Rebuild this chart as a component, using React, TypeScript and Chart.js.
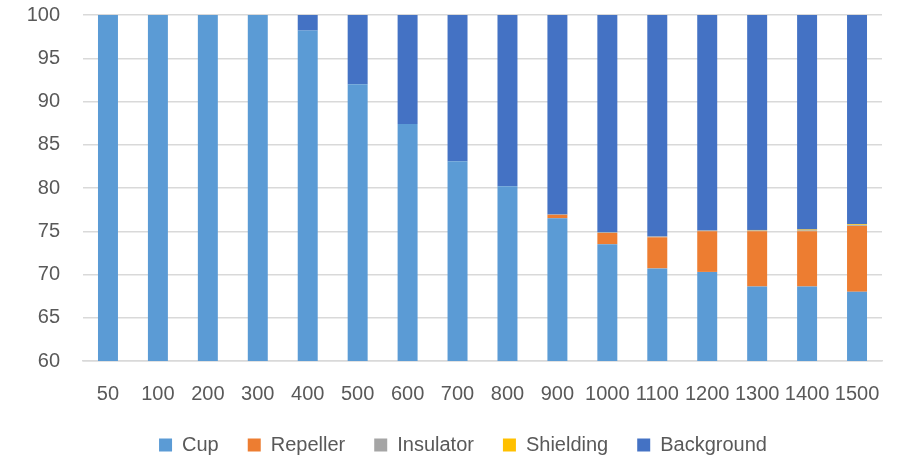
import React, { useEffect, useRef } from "react";
import { Chart, registerables } from "chart.js";

Chart.register(...registerables);

const categories = ["50", "100", "200", "300", "400", "500", "600", "700", "800", "900", "1000", "1100", "1200", "1300", "1400", "1500"];
const cup = [100, 100, 100, 100, 98.2, 92.0, 87.4, 83.1, 80.2, 76.5, 73.5, 70.7, 70.3, 68.6, 68.6, 68.0];
const repeller = [0, 0, 0, 0, 0, 0, 0, 0, 0, 0.4, 1.3, 3.6, 4.7, 6.4, 6.4, 7.6];
const insulator = [0, 0, 0, 0, 0, 0, 0, 0, 0, 0.05, 0.1, 0.1, 0.1, 0.1, 0.1, 0.1];
const shielding = [0, 0, 0, 0, 0, 0, 0, 0, 0, 0, 0, 0, 0, 0.05, 0.1, 0.1];
const background = [0, 0, 0, 0, 1.8, 8.0, 12.6, 16.9, 19.8, 23.05, 25.1, 25.6, 24.9, 24.85, 24.8, 24.2];
const yTicks = [60, 65, 70, 75, 80, 85, 90, 95, 100];

const FONT = "'Liberation Sans', Arial, sans-serif";
const TEXT = "#595959";

const legendPlace = {
  id: "legendPlace",
  afterLayout(chart: any) {
    const l = chart.legend;
    if (!l) return;
    const top = 406;
    l.top = top;
    l.bottom = 460;
    l.height = 460 - top;
    l.left += 22;
    l.right += 22;
  },
};

export default function App() {
  const ref = useRef<HTMLCanvasElement | null>(null);
  useEffect(() => {
    if (!ref.current) return;
    const mk = (label: string, data: number[], color: string) => ({
      label,
      data,
      backgroundColor: color,
      borderWidth: 0,
      barPercentage: 0.4,
      categoryPercentage: 1,
    });
    const chart = new Chart(ref.current, {
      type: "bar",
      data: {
        labels: categories,
        datasets: [
          mk("Cup", cup, "#5B9BD5"),
          mk("Repeller", repeller, "#ED7D31"),
          mk("Insulator", insulator, "#A5A5A5"),
          mk("Shielding", shielding, "#FFC000"),
          mk("Background", background, "#4472C4"),
        ],
      },
      plugins: [legendPlace],
      options: {
        animation: false,
        responsive: false,
        maintainAspectRatio: false,
        layout: { padding: { top: 15, right: 26, left: 0, bottom: 32 } },
        plugins: {
          tooltip: { enabled: false },
          legend: {
            position: "bottom",
            maxHeight: 1,
            labels: {
              boxWidth: 13,
              boxHeight: 13,
              padding: 29,
              color: TEXT,
              font: { family: FONT, size: 20 },
            },
          },
        },
        scales: {
          x: {
            stacked: true,
            grid: { display: false, drawTicks: false },
            border: { display: true, color: "#d9d9d9", width: 1.5 },
            afterFit: (s: any) => {
              s.paddingLeft = 0;
              s.paddingRight = 0;
            },
            ticks: {
              color: TEXT,
              font: { family: FONT, size: 20 },
              padding: 21,
              maxRotation: 0,
              minRotation: 0,
              autoSkip: false,
            },
          },
          y: {
            stacked: true,
            min: 60,
            max: 100,
            afterFit: (s: any) => {
              s.width = 83;
              s.paddingTop = 0;
              s.paddingBottom = 0;
            },
            afterBuildTicks: (s: any) => {
              s.ticks = yTicks.map((v) => ({ value: v }));
            },
            grid: { color: "#d9d9d9", lineWidth: 1.5, drawTicks: false },
            border: { display: false },
            ticks: {
              color: TEXT,
              font: { family: FONT, size: 20 },
              padding: 23,
            },
          },
        },
      },
    });
    return () => chart.destroy();
  }, []);
  return (
    <div style={{ position: "absolute", left: 0, top: 0, width: 908, height: 460, background: "#fff" }}>
      <canvas ref={ref} width={908} height={460} style={{ width: 908, height: 460 }} />
    </div>
  );
}
